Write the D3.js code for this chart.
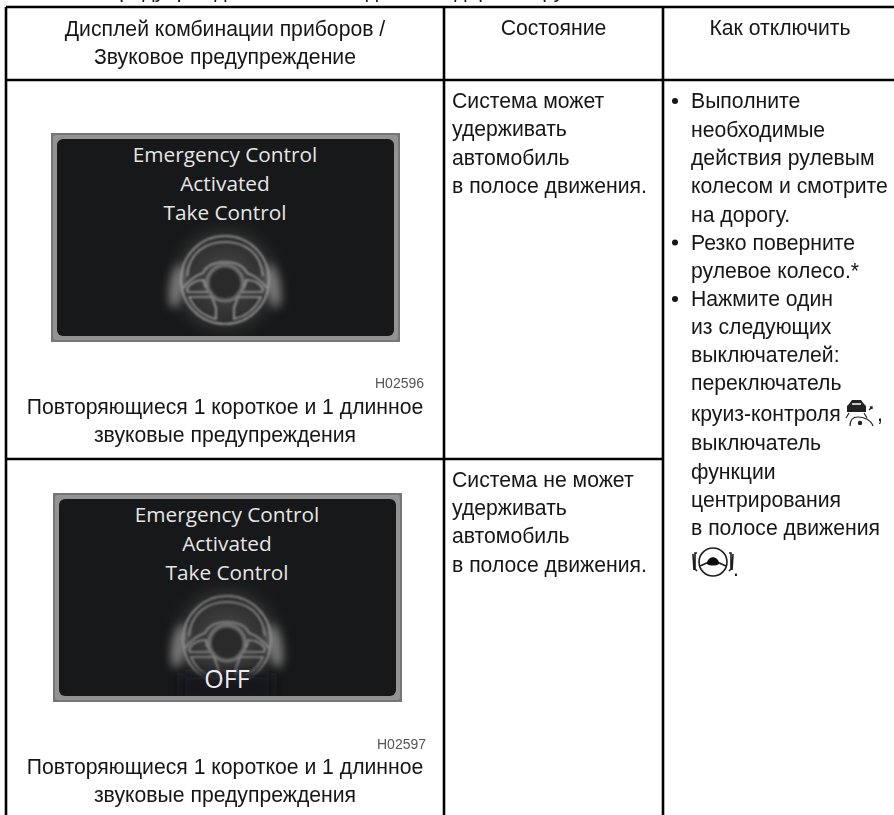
<!DOCTYPE html>
<html><head><meta charset="utf-8">
<script src="https://cdn.jsdelivr.net/npm/d3@7"></script>
<style>html,body{margin:0;background:#fff}svg{display:block}text{font-family:"Liberation Sans",Arial,sans-serif}</style></head>
<body><div id="c"></div>
<script>
const headers=[["Дисплей комбинации приборов /","Звуковое предупреждение"],["Состояние"],["Как отключить"]];
const stateRow1=["Система может","удерживать","автомобиль","в полосе движения."];
const stateRow2=["Система не может","удерживать","автомобиль","в полосе движения."];
const actions=[["Выполните",108],["необходимые",136.5],["действия рулевым",165],["колесом и смотрите",193],["на дорогу.",221.5],["Резко поверните",249.5],["рулевое колесо.*",278],["Нажмите один",306],["из следующих",334],["выключателей:",362],["переключатель",390],["круиз-контроля",421],["выключатель",450],["функции",478.5],["центрирования",507],["в полосе движения",535]];
const bulletLines=[0,5,7];
const screenLines=["Emergency Control","Activated","Take Control"];
const codes=["H02596","H02597"];
const sound=["Повторяющиеся 1 короткое и 1 длинное","звуковые предупреждения"];
const colEdges=[6,444,663,900];
const rowEdges=[7,80,459,815];
const FS=21.2;

const W=894,H=815;
const svg=d3.select("#c").append("svg").attr("width",W).attr("height",H);
const defs=svg.append("defs");
defs.append("filter").attr("id","t").append("feGaussianBlur").attr("stdDeviation",0.3);
defs.append("filter").attr("id","b1").append("feGaussianBlur").attr("stdDeviation",0.8);
defs.append("filter").attr("id","b4").attr("x","-100%").attr("width","300%").attr("y","-50%").attr("height","200%").append("feGaussianBlur").attr("stdDeviation",5);
defs.append("filter").attr("id","b6").attr("x","-50%").attr("width","200%").attr("y","-100%").attr("height","300%").append("feGaussianBlur").attr("stdDeviation",6);
defs.append("clipPath").attr("id","inner").append("rect").attr("x",6).attr("y",6).attr("width",337).attr("height",197).attr("rx",6);
const glow=defs.append("radialGradient").attr("id","glow");
glow.append("stop").attr("offset","0").attr("stop-color","#505050");
glow.append("stop").attr("offset","0.7").attr("stop-color","#333").attr("stop-opacity",0.7);
glow.append("stop").attr("offset","1").attr("stop-color","#1a1a1a").attr("stop-opacity",0);

const page=svg.append("g").attr("filter","url(#t)");
function lines(g,arr,x,y0,dy,anchor,size){
  g.selectAll(null).data(arr).join("text").attr("x",x).attr("y",(d,i)=>y0+i*dy)
   .attr("text-anchor",anchor).attr("font-size",size).attr("fill","#151515").text(d=>d);
}
// line above the table, cut by the top edge of the page
page.append("text").attr("x",104).attr("y",-3.5).attr("font-size",FS).attr("fill","#151515").text("Предупреждение о необходимости держать руль");

lines(page.append("g"),headers[0],225,35.5,28,"middle",FS);
lines(page.append("g"),headers[1],553.5,34.5,28,"middle",FS);
lines(page.append("g"),headers[2],780,34.5,28,"middle",FS);

function panel(x,y,off){
  const g=svg.append("g").attr("transform",`translate(${x},${y})`);
  g.append("rect").attr("width",349).attr("height",209).attr("fill","#767676");
  g.append("rect").attr("x",2).attr("y",2).attr("width",345).attr("height",205).attr("rx",3).attr("fill","#939393");
  g.append("rect").attr("x",6).attr("y",6).attr("width",337).attr("height",197).attr("rx",6).attr("fill","#17181a");
  const inner=g.append("g").attr("clip-path","url(#inner)");
  const c=inner.append("g").attr("transform","translate(174,147)");
  c.append("circle").attr("r",66).attr("fill","url(#glow)");
  const hands=c.append("g").attr("filter","url(#b4)").attr("fill","#7c7c7c");
  hands.append("ellipse").attr("cx",-48).attr("cy",6).attr("rx",7).attr("ry",22).attr("transform","rotate(10 -48 6)");
  hands.append("ellipse").attr("cx",48).attr("cy",6).attr("rx",7).attr("ry",22).attr("transform","rotate(-10 48 6)");
  const w=c.append("g").attr("fill","none").attr("stroke",off?"#939393":"#a0a0a0").attr("stroke-width",1.7).attr("filter","url(#b1)");
  w.append("circle").attr("r",44);
  w.append("path").attr("d","M-38,-4C-36,-27 -20,-38 0,-38C20,-38 36,-27 38,-4");
  w.append("path").attr("d","M-42,8C-34,-2 -28,-5 -22,-7C-15,-22 15,-22 22,-7C28,-5 34,-2 42,8");
  w.append("path").attr("d","M-38,9C-34,2 -28,0 -21,0C-21,5 -19,9 -15,12L-37,12Z");
  w.append("path").attr("d","M38,9C34,2 28,0 21,0C21,5 19,9 15,12L37,12Z");
  w.append("path").attr("d","M-36,17L-13,17L-9,28L-9,39C-22,36 -31,28 -36,17Z");
  w.append("path").attr("d","M36,17L13,17L9,28L9,39C22,36 31,28 36,17Z");
  w.append("circle").attr("cy",3).attr("r",18).attr("stroke-width",3).attr("stroke","#747474");
  w.append("circle").attr("cy",3).attr("r",15).attr("fill","#2a2a2a").attr("stroke","none");
  g.selectAll(null).data(screenLines).join("text").attr("x",174).attr("y",(d,i)=>29+i*29)
   .attr("text-anchor","middle").attr("font-size",20.8).attr("fill","#e6e6e6").style("font-family","'Open Sans'").text(d=>d);
  if(off){
    inner.append("rect").attr("x",128).attr("y",180).attr("width",92).attr("height",30).attr("fill","#17181a").attr("filter","url(#b6)");
    g.append("text").attr("x",174).attr("y",195).attr("text-anchor","middle").attr("font-size",25).attr("fill","#ececec").style("font-family","'Open Sans'").text("OFF");
  }
}
panel(51,133,false);
panel(53,493,true);

page.append("text").attr("x",375).attr("y",388).attr("font-size",14).attr("fill","#555").text(codes[0]);
page.append("text").attr("x",377).attr("y",749).attr("font-size",14).attr("fill","#555").text(codes[1]);
lines(page.append("g"),sound,225,414,28.3,"middle",FS);
lines(page.append("g"),sound,225,773.5,28.3,"middle",FS);

lines(page.append("g"),stateRow1,452,108,28.4,"start",FS);
lines(page.append("g"),stateRow2,452,486.5,28.4,"start",FS);
page.append("g").selectAll(null).data(actions).join("text").attr("x",691).attr("y",d=>d[1]).attr("font-size",FS).attr("fill","#151515").text(d=>d[0]);
page.append("g").selectAll(null).data(bulletLines).join("circle").attr("cx",675).attr("cy",d=>actions[d][1]-7).attr("r",3).attr("fill","#151515");
page.append("text").attr("x",877).attr("y",421).attr("font-size",FS).attr("fill","#151515").text(",");
page.append("text").attr("x",733).attr("y",576).attr("font-size",FS).attr("fill","#151515").text(".");

// cruise-control icon
const cruise=page.append("g").attr("transform","translate(846,399)").attr("fill","none").attr("stroke","#222");
cruise.append("path").attr("fill","#222").attr("stroke","none").attr("d","M3,5L6,1L15,1L18,5L20,7L20,13L1,13L1,7Z");
cruise.append("path").attr("stroke","#fff").attr("stroke-width",1.5).attr("d","M6,5L15,5");
cruise.append("path").attr("stroke-width",1.2).attr("d","M3,14L0,19M18,14L21,19M4,27C4,20 8,18 12,18C18,18 25,21 27,27");
cruise.append("circle").attr("cx",14).attr("cy",24).attr("r",2.2).attr("fill","#222").attr("stroke","none");
cruise.append("path").attr("stroke-width",1.4).attr("d","M23,11L26,8M24,8L26,8L26,10");

// lane-centering icon
const lane=page.append("g").attr("transform","translate(713,562)").attr("fill","none").attr("stroke","#1c1c1c").attr("stroke-width",1.6);
lane.append("circle").attr("r",14);
lane.append("path").attr("d","M-13,4L-4,0M13,4L4,0");
lane.append("path").attr("fill","#111").attr("stroke","none").attr("d","M-6,2C-6,-7 6,-7 6,2C3,4 -3,4 -6,2Z");
lane.append("path").attr("d","M-16,-9L-18,-9L-18,7L-16,9M-20,-8L-19,8");
lane.append("path").attr("d","M16,-9L18,-9L18,7L16,9M20,-8L19,8");

// table rules
const rules=svg.append("g").attr("stroke","#000").attr("stroke-width",2.6);
rules.selectAll(null).data(rowEdges.slice(0,2)).join("line").attr("x1",colEdges[0]).attr("x2",W).attr("y1",d=>d).attr("y2",d=>d);
rules.append("line").attr("x1",colEdges[0]).attr("x2",colEdges[2]).attr("y1",rowEdges[2]).attr("y2",rowEdges[2]);
rules.selectAll(null).data(colEdges.slice(0,3)).join("line").attr("x1",d=>d).attr("x2",d=>d).attr("y1",rowEdges[0]).attr("y2",rowEdges[3]);
</script></body></html>
